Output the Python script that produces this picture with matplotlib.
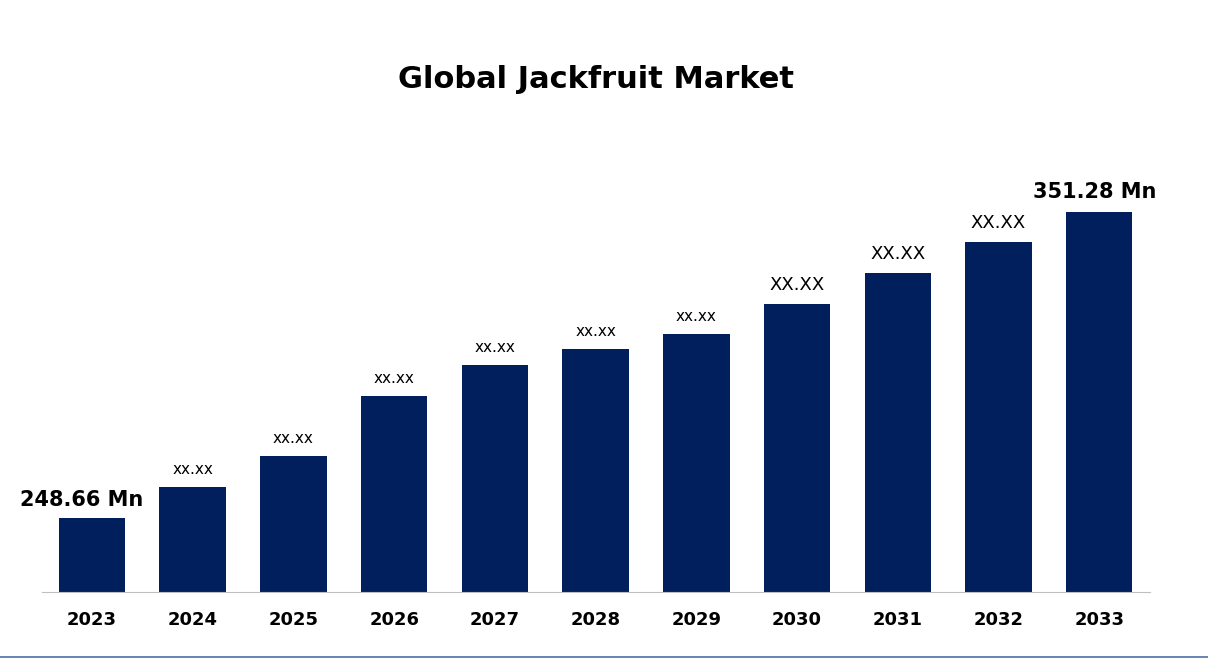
import matplotlib.pyplot as plt
from matplotlib.lines import Line2D

years = ['2023', '2024', '2025', '2026', '2027', '2028', '2029', '2030', '2031', '2032', '2033']
# relative bar heights
heights = [74, 105, 136, 196, 227, 243, 258, 288, 319, 350, 380]
labels = ['248.66 Mn', 'xx.xx', 'xx.xx', 'xx.xx', 'xx.xx', 'xx.xx', 'xx.xx',
          'XX.XX', 'XX.XX', 'XX.XX', '351.28 Mn']

fig = plt.figure(figsize=(12.08, 6.72), dpi=100)
ax = fig.add_axes([41.6 / 1208, 1 - 592 / 672, 1108 / 1208, 442 / 672])

x = range(len(years))
ax.bar(x, heights, width=0.66, color='#001f5c')
ax.set_xlim(-0.5, 10.5)
ax.set_ylim(0, 442)

for i, (h, lab) in enumerate(zip(heights, labels)):
    if i == 0:
        ax.text(i - 0.1, h + 8, lab, ha='center', va='bottom', fontsize=15, fontweight='bold')
    elif i == len(years) - 1:
        ax.text(i - 0.05, h + 10, lab, ha='center', va='bottom', fontsize=15, fontweight='bold')
    elif lab == 'XX.XX':
        ax.text(i, h + 10, lab, ha='center', va='bottom', fontsize=13)
    else:
        ax.text(i, h + 10, lab, ha='center', va='bottom', fontsize=11)

ax.set_xticks(list(x))
ax.set_xticklabels(years, fontsize=13, fontweight='bold')
ax.tick_params(axis='x', length=0, pad=14)
ax.set_yticks([])
for s in ['top', 'right', 'left']:
    ax.spines[s].set_visible(False)
ax.spines['bottom'].set_color('#bfbfbf')

fig.text(0.493, 1 - 80 / 672, 'Global Jackfruit Market', ha='center', va='center',
         fontsize=22, fontweight='bold')
fig.add_artist(Line2D([0, 1], [1 - 657 / 672] * 2, color='#4a6fa5', lw=1.2))

fig.savefig('out.png', dpi=100, facecolor='white')
